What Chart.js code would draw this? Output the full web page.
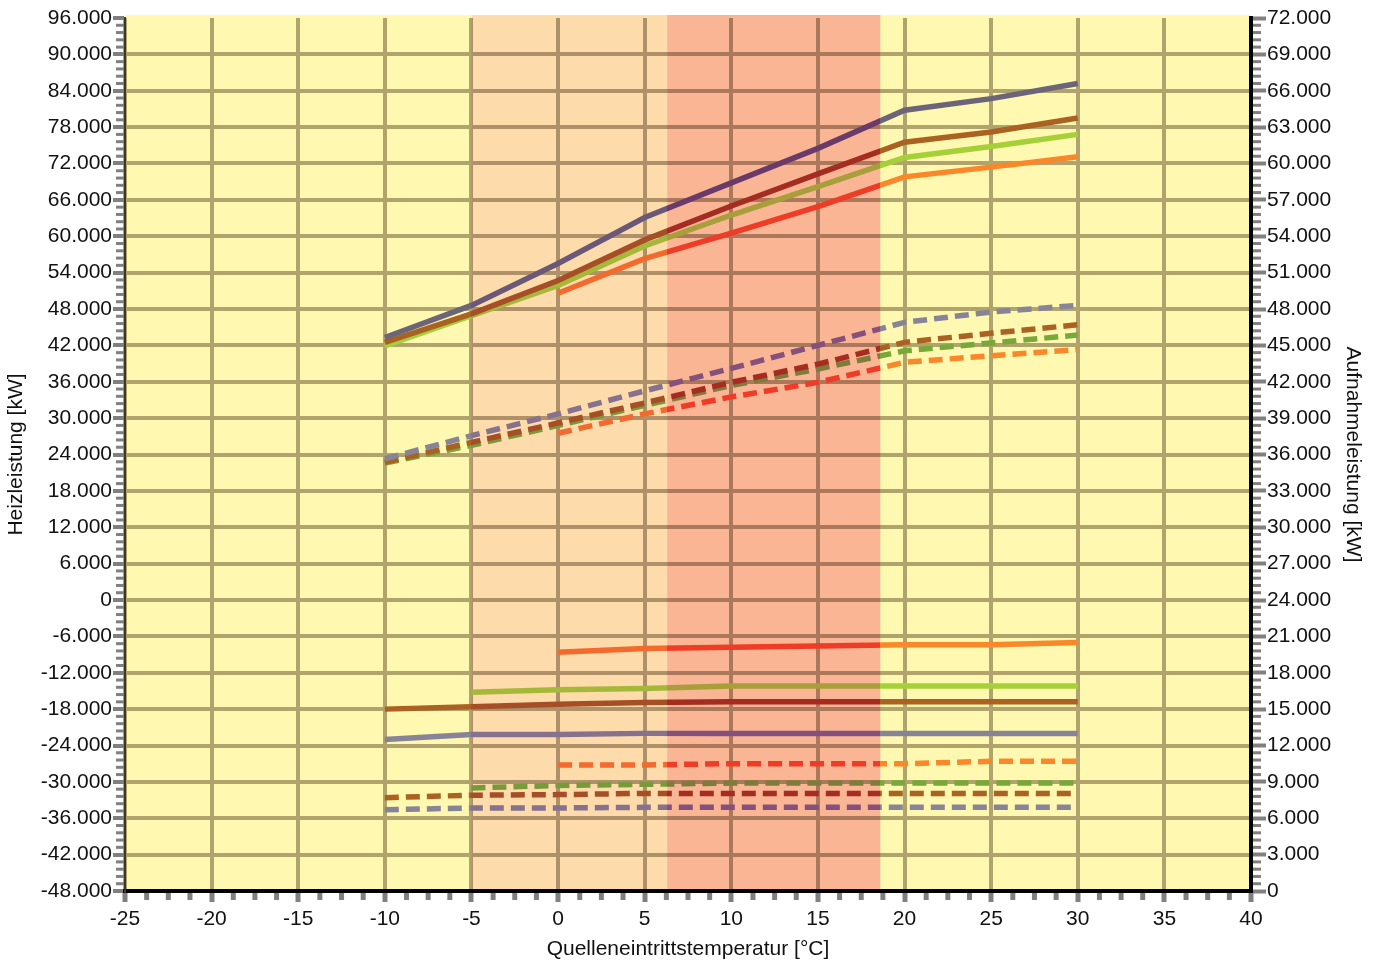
<!DOCTYPE html>
<html lang="de">
<head>
    <meta charset="UTF-8">
    <title>Heizleistung / Aufnahmeleistung</title>
    <script src="https://cdn.jsdelivr.net/npm/chart.js"></script>
    <style>
        html, body { margin: 0; padding: 0; background: #fff; }
        #wrap { width: 1377px; height: 965px; }
    </style>
</head>
<body>
    <div id="wrap"><canvas id="chart" width="1377" height="965"></canvas></div>

    <script>
        // Quelleneintrittstemperatur [°C]
        const temps = [-10, -5, 0, 5, 10, 15, 20, 25, 30];

        // Heizleistung [kW] (left axis) - solid
        const heizPurple = [43300, 48600, 55500, 63100, 68800, 74500, 80800, 82700, 85200];
        const heizBrown  = [42500, 47200, 52700, 59400, 65000, 70300, 75500, 77200, 79500];
        const heizGreen  = [41900, 46900, 51900, 58400, 63500, 68200, 73000, 74800, 76800];
        const heizOrange = [null, null, 50600, 56300, 60500, 64900, 69800, 71400, 73100];

        // Heizleistung [kW] (left axis) - dashed
        const heizPurpleB = [23300, 27100, 30700, 34500, 38200, 42000, 45800, 47500, 48600];
        const heizBrownB  = [22700, 26000, 29200, 32500, 35900, 38900, 42500, 44000, 45400];
        const heizGreenB  = [22600, 25500, 28800, 32100, 35400, 38100, 41100, 42400, 43700];
        const heizOrangeB = [null, null, 27500, 30700, 33500, 35900, 39200, 40300, 41300];

        // Aufnahmeleistung [kW] (right axis) - solid
        const aufOrange = [null, null, 19700, 20000, 20100, 20200, 20300, 20300, 20500];
        const aufGreen  = [null, 16400, 16600, 16700, 16900, 16900, 16900, 16900, 16900];
        const aufBrown  = [15000, 15200, 15400, 15550, 15600, 15600, 15600, 15600, 15600];
        const aufPurple = [12500, 12900, 12900, 13000, 13000, 13000, 13000, 13000, 13000];

        // Aufnahmeleistung [kW] (right axis) - dashed
        const aufOrangeB = [null, null, 10400, 10400, 10500, 10500, 10500, 10700, 10700];
        const aufGreenB  = [null, 8500, 8700, 8800, 8900, 8900, 8900, 8900, 8900];
        const aufBrownB  = [7700, 7900, 7950, 8050, 8050, 8050, 8050, 8050, 8050];
        const aufPurpleB = [6700, 6850, 6850, 6900, 6900, 6900, 6900, 6900, 6900];

        // shaded temperature ranges
        const bandLight = [-5, 6.3];
        const bandDark = [6.3, 18.6];

        const FONT = "'Liberation Sans', Arial, sans-serif";
        const GRID = '#b0a46c';

        // line colours: [outside bands, light band, dark band]
        const cPurpleTop = ['#6c6478', '#6a5878', '#6a3a6a'];
        const cPurple    = ['#888498', '#86728e', '#86507c'];
        const cBrown     = ['#aa6222', '#a64e26', '#a42c20'];
        const cGreen     = ['#a6d038', '#a6b83a', '#a89e3a'];
        const cGreenB    = ['#78a838', '#789a38', '#7e7c3a'];
        const cOrange    = ['#f8882a', '#f26a2e', '#ee3c26'];

        function pts(vals) {
            return temps.map((t, i) => ({ x: t, y: vals[i] }));
        }

        function fmt(v) {
            const s = Math.abs(v).toString().replace(/\B(?=(\d{3})+(?!\d))/g, '.');
            return (v < 0 ? '-' : '') + s;
        }

        function bandGradient(chart, cols) {
            const a = chart.chartArea;
            const xs = chart.scales.x;
            if (!a || !xs) return cols[0];
            const g = chart.ctx.createLinearGradient(a.left, 0, a.right, 0);
            const f = v => Math.min(1, Math.max(0, (xs.getPixelForValue(v) - a.left) / (a.right - a.left)));
            g.addColorStop(0, cols[0]);
            g.addColorStop(f(bandLight[0]), cols[0]);
            g.addColorStop(f(bandLight[0]), cols[1]);
            g.addColorStop(f(bandLight[1]), cols[1]);
            g.addColorStop(f(bandDark[0]), cols[2]);
            g.addColorStop(f(bandDark[1]), cols[2]);
            g.addColorStop(f(bandDark[1]), cols[0]);
            g.addColorStop(1, cols[0]);
            return g;
        }

        function line(vals, cols, axis, dashed) {
            return {
                data: pts(vals),
                yAxisID: axis,
                borderColor: c => bandGradient(c.chart, cols),
                borderWidth: 5.5,
                borderDash: dashed ? [14, 7] : [],
                pointRadius: 0,
                tension: 0,
                fill: false
            };
        }

        const bgPlugin = {
            id: 'bg',
            beforeDraw(chart) {
                const { ctx, chartArea: a } = chart;
                ctx.save();
                ctx.fillStyle = '#fff8b0';
                ctx.fillRect(a.left, a.top - 3, a.right - a.left, a.bottom - a.top + 3);
                ctx.restore();
            }
        };

        // tint background and grid inside the temperature bands
        const bandPlugin = {
            id: 'bands',
            beforeDatasetsDraw(chart) {
                const { ctx, chartArea: a, scales } = chart;
                const xs = scales.x;
                ctx.save();
                ctx.beginPath();
                ctx.rect(a.left, a.top - 3, a.right - a.left, a.bottom - a.top + 1);
                ctx.clip();
                ctx.globalCompositeOperation = 'multiply';
                [[bandLight, '#fde2f6'], [bandDark, '#f9bad6']].forEach(([b, c]) => {
                    const x1 = xs.getPixelForValue(b[0]);
                    const x2 = xs.getPixelForValue(b[1]);
                    ctx.fillStyle = c;
                    ctx.fillRect(x1, a.top - 3, x2 - x1, a.bottom - a.top + 3);
                });
                ctx.restore();
            }
        };

        // small minor ticks between the labelled ones
        const minorPlugin = {
            id: 'minor',
            afterDraw(chart) {
                const { ctx, chartArea: a, scales } = chart;
                ctx.save();
                ctx.fillStyle = '#808080';
                for (let v = -25; v <= 40; v += 1.25) {
                    if (v % 5 === 0) continue;
                    const x = scales.x.getPixelForValue(v);
                    ctx.fillRect(x - 2.5, a.bottom + 2, 5, 7);
                }
                for (let v = -48000; v <= 96000; v += 1200) {
                    if (v % 6000 === 0) continue;
                    const y = scales.y.getPixelForValue(v);
                    ctx.fillRect(a.left - 9, y - 1.5, 8, 3);
                }
                for (let v = 0; v <= 72000; v += 600) {
                    if (v % 3000 === 0) continue;
                    const y = scales.y2.getPixelForValue(v);
                    ctx.fillRect(a.right + 2, y - 1.5, 8, 3);
                }
                ctx.restore();
            }
        };

        new Chart(document.getElementById('chart'), {
            type: 'line',
            data: {
                datasets: [
                    line(heizPurpleB, cPurple, 'y', true),
                    line(heizBrownB, cBrown, 'y', true),
                    line(heizGreenB, cGreenB, 'y', true),
                    line(heizOrangeB, cOrange, 'y', true),
                    line(heizPurple, cPurpleTop, 'y', false),
                    line(heizBrown, cBrown, 'y', false),
                    line(heizGreen, cGreen, 'y', false),
                    line(heizOrange, cOrange, 'y', false),
                    line(aufPurpleB, cPurple, 'y2', true),
                    line(aufBrownB, cBrown, 'y2', true),
                    line(aufGreenB, cGreenB, 'y2', true),
                    line(aufOrangeB, cOrange, 'y2', true),
                    line(aufPurple, cPurple, 'y2', false),
                    line(aufBrown, cBrown, 'y2', false),
                    line(aufGreen, cGreen, 'y2', false),
                    line(aufOrange, cOrange, 'y2', false)
                ]
            },
            options: {
                responsive: false,
                animation: false,
                events: [],
                layout: { padding: { top: 18, left: 0, right: 0, bottom: 0 } },
                plugins: { legend: { display: false }, tooltip: { enabled: false } },
                scales: {
                    x: {
                        type: 'linear',
                        min: -25,
                        max: 40,
                        afterFit: s => { s.height = 74; },
                        grid: { color: GRID, lineWidth: 4, tickColor: '#808080', tickWidth: 5, tickLength: 11 },
                        border: { color: '#000', width: 4 },
                        ticks: { stepSize: 5, autoSkip: false, maxRotation: 0, padding: 5, color: '#111', font: { family: FONT, size: 21 } },
                        title: { display: true, text: 'Quelleneintrittstemperatur [°C]', color: '#111', font: { family: FONT, size: 21 }, padding: { top: 0, bottom: 3 } }
                    },
                    y: {
                        position: 'left',
                        min: -48000,
                        max: 96000,
                        afterFit: s => { s.width = 125; },
                        grid: {
                            color: c => (c.tick && c.tick.value === 96000) ? 'rgba(0,0,0,0)' : GRID,
                            lineWidth: 4, tickColor: '#808080', tickWidth: 4, tickLength: 12
                        },
                        border: { color: '#3c3820', width: 2 },
                        ticks: { stepSize: 6000, autoSkip: false, padding: 1, color: '#111', font: { family: FONT, size: 21 }, callback: v => fmt(v) },
                        title: { display: true, text: 'Heizleistung [kW]', color: '#111', font: { family: FONT, size: 21 }, padding: 4 }
                    },
                    y2: {
                        position: 'right',
                        min: 0,
                        max: 72000,
                        afterFit: s => { s.width = 126; },
                        grid: { drawOnChartArea: false, tickColor: '#808080', tickWidth: 4, tickLength: 15 },
                        border: { color: '#000', width: 4 },
                        ticks: { stepSize: 3000, autoSkip: false, padding: 1, color: '#111', font: { family: FONT, size: 21 }, callback: v => fmt(v) },
                        title: { display: true, text: 'Aufnahmeleistung [kW]', color: '#111', font: { family: FONT, size: 21 }, padding: 12 }
                    }
                }
            },
            plugins: [bgPlugin, bandPlugin, minorPlugin]
        });
    </script>
</body>
</html>
